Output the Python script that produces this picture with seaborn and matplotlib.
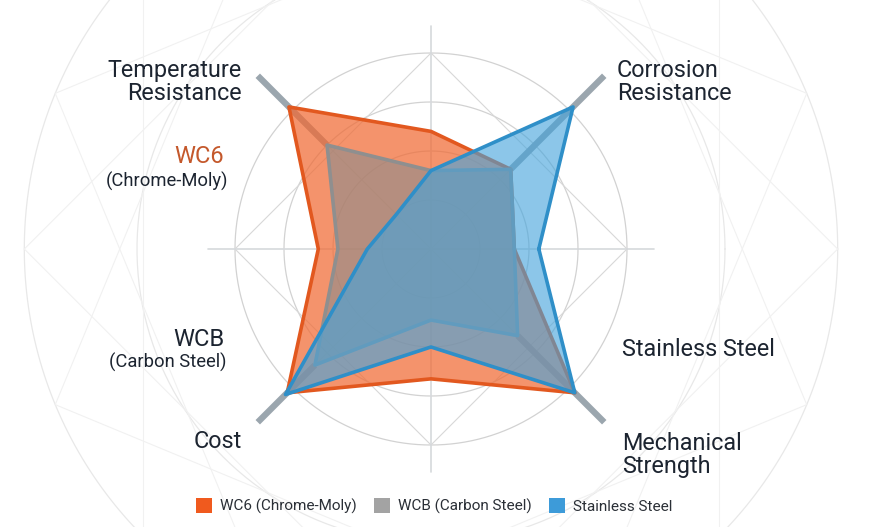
import numpy as np
import pandas as pd
import matplotlib
matplotlib.use("Agg")
import matplotlib.pyplot as plt
import seaborn as sns
from matplotlib.patches import Patch

# spokes, counterclockwise from 3 o'clock, 45 degrees apart
axis_angles = [0, 45, 90, 135, 180, 225, 270, 315]
axis_names = ["", "Corrosion Resistance", "", "Temperature Resistance",
              "", "Cost", "", "Mechanical Strength"]

series_names = ["WC6 (Chrome-Moly)", "WCB (Carbon Steel)", "Stainless Steel"]
wc6_scores = [1.7, 2.3, 2.4, 4.1, 2.3, 4.15, 2.65, 4.15]
wcb_scores = [1.7, 2.3, 1.6, 3.0, 1.9, 3.35, 1.45, 2.5]
ss_scores = [2.2, 4.1, 1.6, 1.0, 1.3, 4.2, 2.0, 4.15]

ring_levels = [1, 2, 3, 4]
outer_rings = [6.0, 8.3]

line_colors = ["#E2581F", "#8F8F8F", "#2F8FC8"]
fill_colors = ["#F06A34", "#8C8C8C", "#45A4DC"]
fill_alpha = [0.72, 0.6, 0.62]
legend_colors = ["#F05A1E", "#A3A3A3", "#3D9BD9"]

W, H = 884, 527
CX, CY = 431, 249          # centre of the web, pixels from top-left
UNIT = 49                  # pixels per score step
R = 470                    # radius of the polar axes in pixels

sns.set_theme(style="white")
plt.rcParams["font.family"] = ["Roboto", "DejaVu Sans"]

df = pd.DataFrame({
    "series": np.repeat(series_names, len(axis_angles)),
    "angle": np.tile(axis_angles, len(series_names)),
    "score": wc6_scores + wcb_scores + ss_scores,
})

fig = plt.figure(figsize=(W / 100, H / 100), dpi=100)
fig.patch.set_facecolor("white")
ax = fig.add_axes([(CX - R) / W, (H - CY - R) / H, 2 * R / W, 2 * R / H],
                  projection="polar")
ax.set_ylim(0, R / UNIT)
ax.axis("off")

full = np.linspace(0, 2 * np.pi, 361)

# faint background web
for r in outer_rings:
    ax.plot(full, np.full_like(full, r), color="#e8e8e8", lw=0.9, zorder=0)
star = np.deg2rad(np.arange(0, 360, 22.5))
for k in range(16):
    a, b = star[k], star[(k + 4) % 16]
    ax.plot([a, b], [8.3, 8.3], color="#f1f1f1", lw=0.8, zorder=0)

# main grid
for r in ring_levels:
    ax.plot(full, np.full_like(full, r), color="#d2d2d2", lw=0.9, zorder=1)
cardinal = np.deg2rad([0, 90, 180, 270, 0])
ax.plot(cardinal, [4] * 5, color="#d8d8d8", lw=0.8, zorder=1)
for j, ang in enumerate(axis_angles):
    t = np.deg2rad(ang)
    if ang % 90 == 0:
        ax.plot([t, t], [0, 4.55], color="#d6d9dc", lw=1.2, zorder=1)
    else:
        ax.plot([t, t], [0, 4], color="#dcdcdc", lw=0.8, zorder=1)
        ax.plot([t, t], [wcb_scores[j], 5.0], color="#9BA6AE", lw=4.5,
                solid_capstyle="butt", zorder=2)

# series polygons
for i, name in enumerate(series_names):
    sub = df[df["series"] == name]
    theta = np.deg2rad(np.append(sub["angle"].to_numpy(), 360))
    vals = np.append(sub["score"].to_numpy(), sub["score"].iloc[0])
    ax.fill(theta, vals, color=fill_colors[i], alpha=fill_alpha[i], lw=0,
            zorder=3 + 2 * i)
    sns.lineplot(x=theta, y=vals, sort=False, estimator=None, ax=ax,
                 color=line_colors[i], linewidth=2.6, zorder=4 + 2 * i)
ax.axis("off")


def put(x, y, s, ha, size, color="#1c2430", ls=1.05):
    fig.text(x / W, 1 - y / H, s, ha=ha, va="center", fontsize=size,
             color=color, linespacing=ls, multialignment=ha)


put(242, 82, "Temperature\nResistance", "right", 16.8)
put(617, 82, "Corrosion\nResistance", "left", 16.8)
put(622, 455, "Mechanical\nStrength", "left", 16.8)
put(242, 442, "Cost", "right", 16.8)
put(622, 350, "Stainless Steel", "left", 16.8)
put(224, 157, "WC6", "right", 17, color="#C4582B")
put(228, 181, "(Chrome-Moly)", "right", 13.2)
put(225, 339, "WCB", "right", 17)
put(227, 362, "(Carbon Steel)", "right", 13.2)

handles = [Patch(facecolor=c, edgecolor="none") for c in legend_colors]
fig.legend(handles, series_names, loc="center", ncol=3, frameon=False,
           bbox_to_anchor=(434 / W, 1 - 506 / H), fontsize=11,
           handlelength=1.1, handleheight=1.2, handletextpad=0.5,
           columnspacing=1.1, labelcolor="#2a2f36")

fig.savefig("out.png", dpi=100, facecolor="white")
